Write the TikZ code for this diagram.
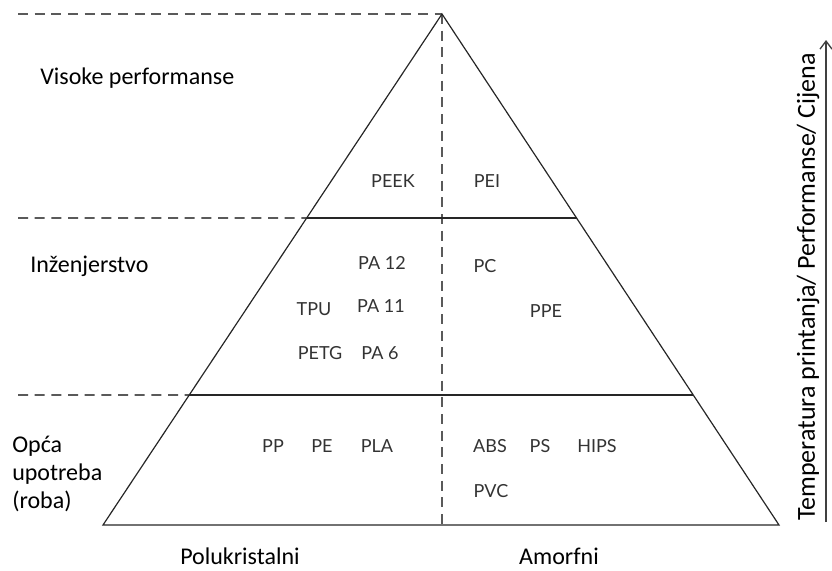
\documentclass[tikz,border=0pt]{standalone}
\usepackage{fontspec}
\setmainfont{Carlito}
\newfontfamily\innerfont{Lato}
\usetikzlibrary{arrows.meta,calc}
\definecolor{dashgray}{HTML}{5A5A5A}
\definecolor{labgray}{HTML}{333333}
\tikzset{
  outline/.style={draw=black!85, line width=0.9pt},
  guide/.style={draw=dashgray, line width=1.4pt, dash pattern=on 7.5pt off 5pt},
  poly/.style={font=\innerfont\fontsize{13.5}{15}\selectfont, text=labgray, inner sep=0pt},
  level/.style={font=\fontsize{18}{22}\selectfont, anchor=west, inner sep=0pt, align=left},
  axis/.style={font=\fontsize{18}{22}\selectfont, inner sep=0pt}
}
\begin{document}
\begin{tikzpicture}[x=0.75pt,y=-0.75pt]
\useasboundingbox (0,0) rectangle (832,571);
% key points
\coordinate (apex) at (442,14);
\coordinate (bl) at (103,525);
\coordinate (br) at (779,525);
\coordinate (mid) at (442,525);
\coordinate (l1) at ($(apex)!0.3992!(bl)$);
\coordinate (r1) at ($(apex)!0.3992!(br)$);
\coordinate (l2) at ($(apex)!0.7456!(bl)$);
\coordinate (r2) at ($(apex)!0.7456!(br)$);
\coordinate (d0) at (18,14);
\coordinate (d1) at (18,218);
\coordinate (d2) at (18,395);
% dashed guides
\draw[guide] (d0) -- (apex);
\draw[guide] (d1) -- (l1);
\draw[guide] (d2) -- (l2);
\draw[guide] (apex) -- (mid);
% pyramid
\draw[outline, line join=miter] (apex) -- (bl) -- (br) -- cycle;
\draw[outline] (l1) -- (r1);
\draw[outline] (l2) -- (r2);
% level labels
\node[level] (vp) at (40,78) {Visoke performanse};
\node[level] (inz) at (30,266) {Inženjerstvo};
\node[level] (opc) at (12,474) {Opća\\[-1pt]upotreba\\[-1pt](roba)};
% bottom labels
\node[axis] (polu) at (240,556) {Polukristalni};
\node[axis] (amor) at (559,556) {Amorfni};
% polymers
\node[poly] (peek) at (393,181) {PEEK};
\node[poly] (pei) at (487,181) {PEI};
\node[poly] (pa12) at (382,263) {PA 12};
\node[poly] (pc) at (485,266) {PC};
\node[poly] (tpu) at (314,309) {TPU};
\node[poly] (pa11) at (381,306) {PA 11};
\node[poly] (ppe) at (546,311) {PPE};
\node[poly] (petg) at (320,353) {PETG};
\node[poly] (pa6) at (380,353) {PA 6};
\node[poly] (pp) at (273,446) {PP};
\node[poly] (pe) at (322,446) {PE};
\node[poly] (pla) at (377,446) {PLA};
\node[poly] (abs) at (490,446) {ABS};
\node[poly] (ps) at (540,446) {PS};
\node[poly] (hips) at (597,446) {HIPS};
\node[poly] (pvc) at (491,491) {PVC};
% axis arrow
\coordinate (ab) at (826,522);
\coordinate (at) at (826,40);
\draw[draw=black!75, line width=1pt, -{Straight Barb[length=6pt,width=9pt]}] (ab) -- (at);
\node[axis, rotate=90, font=\fontsize{19.5}{22}\selectfont] (temp) at (808,287) {Temperatura printanja/ Performanse/ Cijena};
\end{tikzpicture}
\end{document}
